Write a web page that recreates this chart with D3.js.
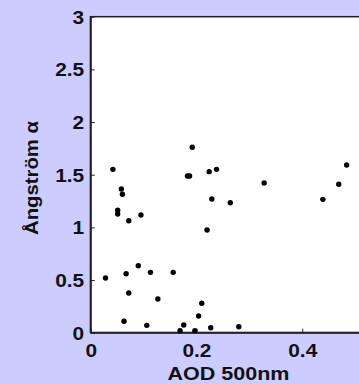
<!DOCTYPE html>
<html>
<head>
<meta charset="utf-8">
<script src="https://cdn.jsdelivr.net/npm/d3@7"></script>
<style>
  body { margin: 0; background: #ccccff; overflow: hidden; }
  svg { display: block; }
  text { font-family: "Liberation Sans", Arial, sans-serif; font-weight: bold; fill: #111; }
</style>
</head>
<body>
<div id="chart"></div>
<script>
// Scatter of Angstrom exponent against aerosol optical depth

// Data
const aod = [0.042, 0.058, 0.060, 0.051, 0.051, 0.072, 0.095,
             0.028, 0.067, 0.090, 0.113, 0.156, 0.072, 0.127, 0.063, 0.106,
             0.192, 0.183, 0.187, 0.224, 0.238, 0.328, 0.229, 0.264, 0.220,
             0.210, 0.204, 0.176, 0.169, 0.197, 0.227, 0.280,
             0.484, 0.469, 0.439];
const alpha = [1.551, 1.364, 1.314, 1.162, 1.127, 1.063, 1.117,
               0.519, 0.560, 0.636, 0.573, 0.573, 0.377, 0.320, 0.108, 0.070,
               1.760, 1.488, 1.488, 1.529, 1.551, 1.421, 1.269, 1.234, 0.975,
               0.279, 0.159, 0.073, 0.019, 0.019, 0.047, 0.057,
               1.592, 1.409, 1.266];
const xTicks = [0, 0.2, 0.4];
const yTicks = [0, 0.5, 1, 1.5, 2, 2.5, 3];
const xTitle = "AOD 500nm";
const yTitle = "Ångström α";

// Dimensions
let width = 359;
let height = 384;
let plot = { left: 90.7, top: 16.7, bottom: 332.7, right: 408 };
const fontSize = 18;
const stretch = 1.16; // text in the picture is a bit wider than the font

let svg = d3.select("#chart").append("svg")
    .attr("width", width)
    .attr("height", height)

let x = d3.scaleLinear().domain([0, 0.6]).range([plot.left, plot.right]);
let y = d3.scaleLinear().domain([0, 3]).range([plot.bottom, plot.top]);

// white plotting area
svg.append("rect")
    .attr("x", plot.left)
    .attr("y", plot.top)
    .attr("width", plot.right - plot.left)
    .attr("height", plot.bottom - plot.top)
    .attr("fill", "#fff")
    .attr("stroke", "#222")
    .attr("stroke-width", 1.5)

// Axes, ticks pointing inward like matlab
let xAxis = svg.append("g")
    .attr("transform", `translate(0,${plot.bottom})`)
    .call(d3.axisBottom(x).tickValues(xTicks).tickSize(-4).tickPadding(0).tickFormat(d3.format("~g")))
let yAxis = svg.append("g")
    .attr("transform", `translate(${plot.left},0)`)
    .call(d3.axisLeft(y).tickValues(yTicks).tickSize(-4).tickPadding(0).tickFormat(d3.format("~g")))

svg.selectAll(".domain").remove();
svg.selectAll(".tick line").attr("stroke", "#222");
svg.selectAll(".tick text")
    .attr("font-size", fontSize + "px")
    .attr("font-family", null)
    .attr("fill", "#111")
    .attr("x", null).attr("y", null).attr("dy", null)

// place tick labels by hand, stretched sideways
xAxis.selectAll(".tick text")
    .attr("transform", `translate(0,24) scale(${stretch},1)`)
yAxis.selectAll(".tick text")
    .attr("transform", `translate(-6.5,6.3) scale(${stretch},1)`)

// axis lines drawn over the rectangle border
svg.append("line")
    .attr("x1", plot.left).attr("x2", plot.right)
    .attr("y1", plot.bottom).attr("y2", plot.bottom)
    .attr("stroke", "#222").attr("stroke-width", 2)
svg.append("line")
    .attr("x1", plot.left).attr("x2", plot.left)
    .attr("y1", plot.top).attr("y2", plot.bottom)
    .attr("stroke", "#222").attr("stroke-width", 2)

// Points
svg.append("g")
    .selectAll("circle")
    .data(aod.map((d, i) => [d, alpha[i]]))
    .enter().append("circle")
    .attr("cx", d => x(d[0]))
    .attr("cy", d => y(d[1]))
    .attr("r", 2.7)
    .attr("fill", "#000")

// Titles
svg.append("text")
    .attr("x", 167.5)
    .attr("y", 380)
    .attr("font-size", fontSize + "px")
    .attr("textLength", 122)
    .attr("lengthAdjust", "spacingAndGlyphs")
    .text(xTitle)

svg.append("text")
    .attr("transform", "translate(37.5,235) rotate(-90)")
    .attr("font-size", "18px")
    .attr("textLength", 114)
    .attr("lengthAdjust", "spacingAndGlyphs")
    .text(yTitle)
</script>
</body>
</html>
